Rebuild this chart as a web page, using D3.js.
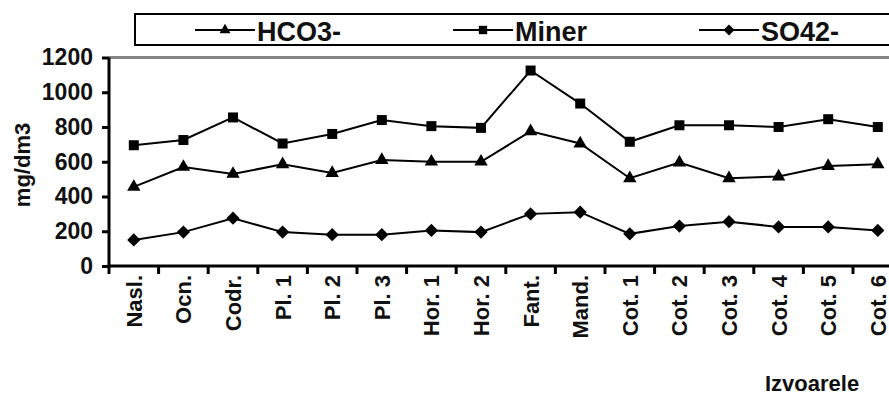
<!DOCTYPE html>
<html>
<head>
<meta charset="utf-8">
<script src="https://cdn.jsdelivr.net/npm/d3@7"></script>
<style>
  body { margin: 0; background: #fff; }
  svg { display: block; font-family: "Liberation Sans", Arial, sans-serif; font-weight: bold; }
</style>
</head>
<body>
<div id="chart"></div>
<script>
const width = 889;
const height = 396;

// data
const categories = ['Nasl.', 'Ocn.', 'Codr.', 'Pl. 1', 'Pl. 2', 'Pl. 3', 'Hor. 1', 'Hor. 2',
  'Fant.', 'Mand.', 'Cot. 1', 'Cot. 2', 'Cot. 3', 'Cot. 4', 'Cot. 5', 'Cot. 6'];
const hco3 = [455, 570, 530, 585, 535, 610, 600, 600, 775, 705, 505, 595, 505, 515, 575, 585];
const miner = [695, 725, 855, 705, 760, 840, 805, 795, 1125, 935, 715, 810, 810, 800, 845, 800];
const so4 = [150, 195, 275, 195, 180, 180, 205, 195, 300, 310, 185, 230, 255, 225, 225, 205];
const yTicks = [0, 200, 400, 600, 800, 1000, 1200];

const series = [
  { name: 'HCO3-', values: hco3, symbol: 'triangle' },
  { name: 'Miner', values: miner, symbol: 'square' },
  { name: 'SO42-', values: so4, symbol: 'diamond' }
];

const svg = d3.select('#chart')
  .append('svg')
  .attr('width', width)
  .attr('height', height);

const xScale = d3.scaleBand()
  .domain(categories)
  .range([109, 109 + 16 * 49.6]);

const yScale = d3.scaleLinear()
  .domain([0, 1200])
  .range([266, 57.5]);

function symbolPath(type, big) {
  if (type === 'triangle') return d3.symbol(d3.symbolTriangle, big ? 78 : 52)();
  if (type === 'square') return d3.symbol(d3.symbolSquare, big ? 100 : 70)();
  return d3.symbol(d3.symbolSquare, big ? 88 : 60)();
}

// grey plot border top
svg.append('line')
  .attr('x1', 109).attr('x2', width)
  .attr('y1', yScale(1200)).attr('y2', yScale(1200))
  .attr('stroke', '#858585')
  .attr('stroke-width', 3);

// y axis
const yAxis = svg.append('g')
  .attr('transform', 'translate(109, 0)')
  .call(d3.axisLeft(yScale).tickValues(yTicks).tickFormat(d3.format('d')).tickSize(7).tickPadding(9));
yAxis.select('.domain').attr('stroke-width', 3).attr('d', `M0,${yScale(1200)}V${yScale(0)}`);
yAxis.selectAll('.tick line').attr('stroke-width', 3);
yAxis.selectAll('text')
  .attr('font-size', 23)
  .attr('font-family', '"Liberation Sans", Arial, sans-serif')
  .attr('font-weight', 'bold')
  .attr('fill', '#111');

// x axis
const xAxis = svg.append('g')
  .attr('transform', `translate(0, ${yScale(0)})`)
  .call(d3.axisBottom(xScale).tickSize(0).tickPadding(0));
xAxis.select('.domain').attr('stroke-width', 3).attr('d', `M107.5,0H${width}`);
xAxis.selectAll('text')
  .attr('font-size', 22)
  .attr('font-family', '"Liberation Sans", Arial, sans-serif')
  .attr('font-weight', 'bold')
  .attr('fill', '#111')
  .attr('text-anchor', 'end')
  .attr('transform', 'translate(0, 9) rotate(-90)')
  .attr('x', 0)
  .attr('y', 0)
  .attr('dy', '0.36em');

xAxis.selectAll('.boundary')
  .data(categories)
  .join('line')
  .attr('class', 'boundary')
  .attr('x1', (d) => xScale(d))
  .attr('x2', (d) => xScale(d))
  .attr('y1', 0)
  .attr('y2', 8)
  .attr('stroke', '#000')
  .attr('stroke-width', 3);

// lines and markers
const line = d3.line()
  .x((d, i) => xScale(categories[i]) + xScale.bandwidth() / 2)
  .y((d) => yScale(d));

series.forEach((s) => {
  svg.append('path')
    .datum(s.values)
    .attr('fill', 'none')
    .attr('stroke', '#000')
    .attr('stroke-width', 2)
    .attr('d', line);

  svg.append('g')
    .selectAll('path')
    .data(s.values)
    .join('path')
    .attr('d', symbolPath(s.symbol, true))
    .attr('fill', '#000')
    .attr('transform', (d, i) => {
      const cx = xScale(categories[i]) + xScale.bandwidth() / 2;
      return `translate(${cx}, ${yScale(d)})` + (s.symbol === 'diamond' ? ' rotate(45)' : '');
    });
});

// legend
svg.append('rect')
  .attr('x', 135).attr('y', 14)
  .attr('width', 800).attr('height', 31)
  .attr('fill', '#fff')
  .attr('stroke', '#000')
  .attr('stroke-width', 2);

const legendX = [195, 453, 699];
series.forEach((s, i) => {
  const g = svg.append('g').attr('transform', `translate(${legendX[i]}, 30)`);
  g.append('line')
    .attr('x1', 0).attr('x2', 60)
    .attr('stroke', '#000').attr('stroke-width', 2);
  g.append('path')
    .attr('d', symbolPath(s.symbol, false))
    .attr('transform', 'translate(30, 0)' + (s.symbol === 'diamond' ? ' rotate(45)' : ''));
  g.append('text')
    .attr('x', 62)
    .attr('y', 11)
    .attr('font-size', 27)
    .attr('fill', '#111')
    .text(s.name);
});

// axis titles
svg.append('text')
  .attr('transform', 'translate(22, 165) rotate(-90)')
  .attr('text-anchor', 'middle')
  .attr('dy', '0.35em')
  .attr('font-size', 22)
  .attr('fill', '#111')
  .text('mg/dm3');

svg.append('text')
  .attr('x', 765)
  .attr('y', 391)
  .attr('font-size', 22)
  .attr('fill', '#111')
  .text('Izvoarele');
</script>
</body>
</html>
